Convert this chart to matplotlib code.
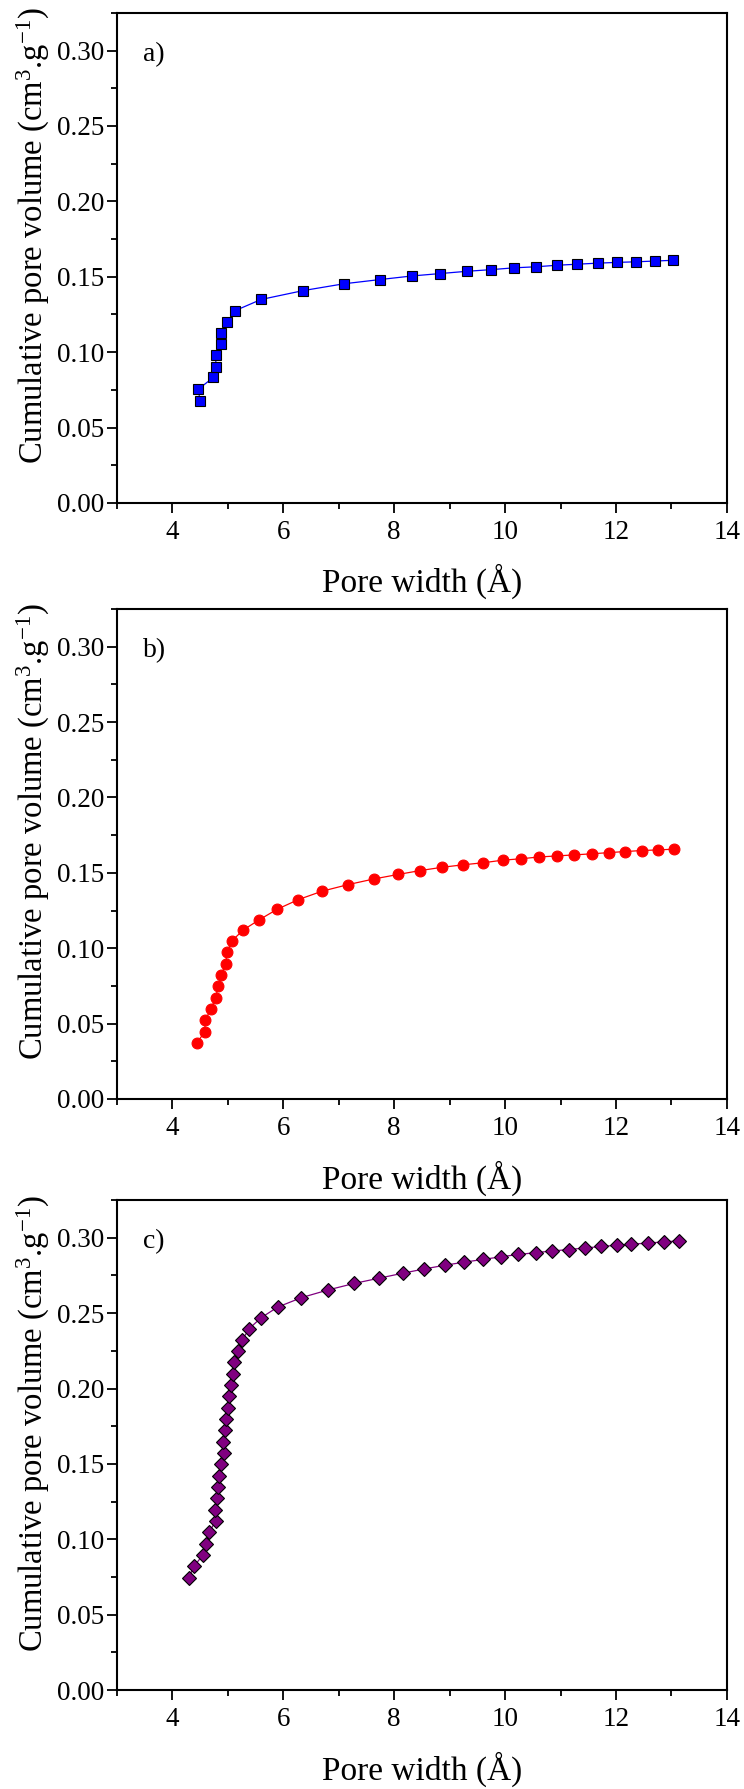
import numpy as np
import matplotlib
matplotlib.use("Agg")
import matplotlib.pyplot as plt
from matplotlib.ticker import MultipleLocator, FormatStrFormatter

plt.rcParams['font.family'] = ['Liberation Serif', 'DejaVu Serif']
plt.rcParams['mathtext.default'] = 'regular'

# cumulative pore volume vs pore width, three samples
width_a = [4.50, 4.47, 4.74, 4.79, 4.78, 4.87, 4.88, 4.99, 5.14, 5.60, 6.36, 7.09, 7.74,
           8.32, 8.83, 9.31, 9.75, 10.16, 10.56, 10.93, 11.30, 11.67, 12.01, 12.36, 12.70, 13.03]
vol_a = [0.0676, 0.0754, 0.0832, 0.0902, 0.0978, 0.1054, 0.1129, 0.1202, 0.1276, 0.1349,
         0.1408, 0.1453, 0.1481, 0.1505, 0.1521, 0.1536, 0.1547, 0.1559, 0.1566, 0.1576,
         0.1583, 0.1590, 0.1595, 0.1599, 0.1604, 0.1609]

width_b = [4.44, 4.59, 4.59, 4.70, 4.78, 4.83, 4.88, 4.96, 4.99, 5.07, 5.28, 5.57, 5.89,
           6.27, 6.70, 7.16, 7.63, 8.07, 8.47, 8.87, 9.24, 9.61, 9.96, 10.28, 10.61, 10.93,
           11.25, 11.56, 11.87, 12.16, 12.47, 12.76, 13.05]
vol_b = [0.0371, 0.0447, 0.0522, 0.0598, 0.0671, 0.0747, 0.0820, 0.0896, 0.0972, 0.1047,
         0.1121, 0.1189, 0.1258, 0.1322, 0.1378, 0.1421, 0.1459, 0.1489, 0.1515, 0.1537,
         0.1553, 0.1567, 0.1584, 0.1593, 0.1605, 0.1612, 0.1619, 0.1626, 0.1634, 0.1641,
         0.1648, 0.1652, 0.1657]

width_c = [4.30, 4.39, 4.55, 4.61, 4.67, 4.78, 4.77, 4.81, 4.82, 4.85, 4.87, 4.93, 4.91,
           4.95, 4.97, 5.00, 5.03, 5.05, 5.10, 5.12, 5.18, 5.26, 5.39, 5.60, 5.90, 6.33,
           6.81, 7.28, 7.73, 8.16, 8.54, 8.92, 9.26, 9.60, 9.93, 10.24, 10.55, 10.84, 11.15,
           11.44, 11.73, 12.01, 12.28, 12.57, 12.86, 13.14]
vol_c = [0.0746, 0.0820, 0.0895, 0.0971, 0.1047, 0.1123, 0.1196, 0.1272, 0.1348, 0.1422,
         0.1497, 0.1571, 0.1647, 0.1723, 0.1798, 0.1874, 0.1948, 0.2021, 0.2097, 0.2173,
         0.2246, 0.2322, 0.2398, 0.2469, 0.2540, 0.2603, 0.2654, 0.2697, 0.2732, 0.2765,
         0.2793, 0.2818, 0.2838, 0.2856, 0.2874, 0.2889, 0.2901, 0.2912, 0.2922, 0.2932,
         0.2942, 0.2950, 0.2957, 0.2965, 0.2972, 0.2980]

panels = [
    ('a)', width_a, vol_a, '#0000FF', 's', 'black', 6.8),
    ('b)', width_b, vol_b, '#FF0000', 'o', '#FF0000', 7.8),
    ('c)', width_c, vol_c, '#800080', 'D', 'black', 6.8),
]
boxes = [0.7189, 0.3857, 0.0553]

fig = plt.figure(figsize=(7.44, 17.89), dpi=100)

for (tag, x, y, col, mk, edge, ms), b in zip(panels, boxes):
    ax = fig.add_axes([0.157, b, 0.820, 0.2739])
    ax.plot(x, y, color=col, lw=0.9, marker=mk, ms=ms, mfc=col, mec=edge, mew=0.8)
    ax.set_xlim(3, 14)
    ax.set_ylim(0, 0.325)
    ax.xaxis.set_major_locator(MultipleLocator(2))
    ax.xaxis.set_minor_locator(MultipleLocator(1))
    ax.yaxis.set_major_locator(MultipleLocator(0.05))
    ax.yaxis.set_minor_locator(MultipleLocator(0.025))
    ax.yaxis.set_major_formatter(FormatStrFormatter('%.2f'))
    ax.tick_params(which='major', direction='out', length=7, width=1.3, labelsize=19.5)
    ax.tick_params(which='minor', direction='out', length=4, width=1.3)
    ax.tick_params(axis='x', which='major', pad=5)
    ax.tick_params(axis='y', which='major', pad=2)
    for s in ax.spines.values():
        s.set_linewidth(1.5)
    ax.set_xlabel('Pore width (Å)', fontsize=24)
    ax.xaxis.set_label_coords(0.5, -0.125)
    ax.set_ylabel('Cumulative pore volume (cm$^3$.g$^{-1}$)', fontsize=23.5)
    ax.yaxis.set_label_coords(-0.107, 0.545)
    ax.text(0.043, 0.915, tag, transform=ax.transAxes, fontsize=20, va='center', ha='left')

fig.savefig('out.png', dpi=100)
